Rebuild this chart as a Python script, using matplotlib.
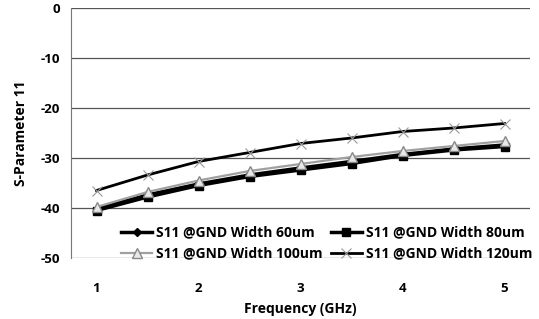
import matplotlib.pyplot as plt

plt.rcParams['font.family'] = ['Open Sans', 'DejaVu Sans']
plt.rcParams['font.weight'] = 'bold'
plt.rcParams['axes.labelweight'] = 'bold'
plt.rcParams['axes.unicode_minus'] = False

# частоты, ГГц
freq = [1.0, 1.5, 2.0, 2.5, 3.0, 3.5, 4.0, 4.5, 5.0]
# S11 для разных ширин GND
s11_60 = [-40.2, -37.4, -35.2, -33.4, -32.0, -30.7, -29.3, -28.2, -27.4]
s11_80 = [-40.5, -37.8, -35.5, -33.7, -32.4, -31.1, -29.5, -28.4, -27.7]
s11_100 = [-39.8, -36.8, -34.5, -32.6, -31.2, -29.8, -28.6, -27.6, -26.6]
s11_120 = [-36.5, -33.4, -30.7, -28.9, -27.1, -26.0, -24.7, -24.0, -23.1]

xticks = [1, 2, 3, 4, 5]
yticks = [0, -10, -20, -30, -40, -50]

fig = plt.figure(figsize=(5.39, 3.19), dpi=100)
ax = fig.add_axes([71/539, 1 - 258/319, 459/539, 250/319])

l60, = ax.plot(freq, s11_60, color='black', lw=2.5, marker='D', ms=4, label='S11 @GND Width 60um')
l80, = ax.plot(freq, s11_80, color='black', lw=2.5, marker='s', ms=6, label='S11 @GND Width 80um')
l100, = ax.plot(freq, s11_100, color='#a0a0a0', lw=1.6, marker='^', ms=7, mfc='#e8e8e8',
                mec='#888888', label='S11 @GND Width 100um')
l120, = ax.plot(freq, s11_120, color='black', lw=2.0, marker='x', ms=7, mew=0.8,
                mec='#999999', label='S11 @GND Width 120um')

ax.set_xlim(0.75, 5.25)
ax.set_ylim(-50, 0)
ax.set_xticks(xticks, [str(v) for v in xticks], fontweight='bold', fontsize=9.5)
ax.set_yticks(yticks, [str(v) for v in yticks], fontweight='bold', fontsize=9.5)
ax.tick_params(length=0, pad=8)
ax.tick_params(axis='x', pad=17)
ax.grid(axis='y', color='#555555', lw=0.9)
for s in ['top', 'right', 'bottom']:
    ax.spines[s].set_visible(False)
ax.spines['left'].set_color('#777777')
ax.spines['left'].set_linewidth(0.8)

ax.set_xlabel('Frequency (GHz)', fontsize=10, fontweight='bold', labelpad=5)
ax.set_ylabel('S-Parameter 11', fontsize=10, fontweight='bold', labelpad=9)

handles = [l60, l80, l100, l120]
order = [0, 2, 1, 3]
ax.legend([handles[i] for i in order], [handles[i].get_label() for i in order],
          loc='lower left', bbox_to_anchor=(0.11, -0.01), ncol=2, frameon=False,
          prop={'size': 10, 'weight': 'bold'}, handlelength=2.2, handletextpad=0.3,
          columnspacing=0.6, labelspacing=0.5, borderaxespad=0.0, borderpad=0.0)

fig.savefig('out.png', dpi=100)
